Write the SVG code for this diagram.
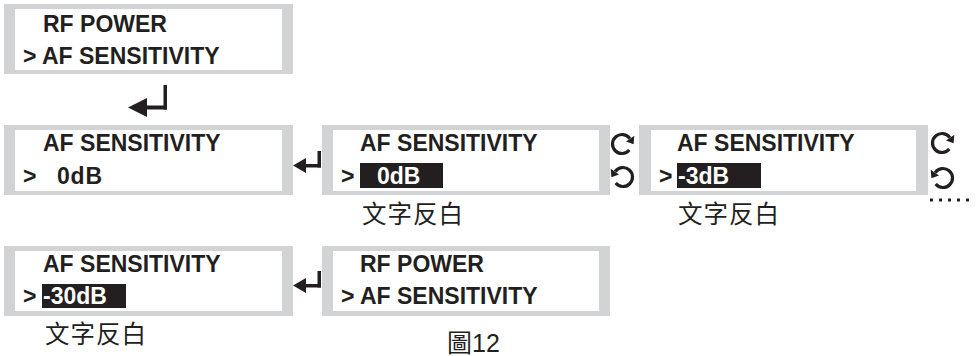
<svg xmlns="http://www.w3.org/2000/svg" xmlns:xlink="http://www.w3.org/1999/xlink" width="976" height="356" viewBox="0 0 976 356">
<style>
.frame{fill:#d1d3d4}
.screen{fill:#ffffff}
.t{font-family:"Liberation Sans",Arial,sans-serif;font-weight:bold;font-size:23px;fill:#231f20}
.inv{fill:#ffffff}
.hl{fill:#231f20}
.cjk{font-family:"Noto Sans CJK TC","Noto Sans CJK SC",sans-serif;font-size:24.5px;letter-spacing:1px;fill:#231f20}
.cap{font-family:"Liberation Sans","Noto Sans CJK TC",sans-serif;font-size:25px;fill:#231f20}
.ink{fill:#231f20}
.arc{fill:none;stroke:#231f20;stroke-width:3.2}
</style>
<defs>
<g id="cw">
<path class="arc" d="M 7.3 6.1 A 9.5 9.5 0 1 1 7.8 -5.4"/>
<polygon class="ink" points="11.6,0.2 12.3,-8.2 4,-2.6"/>
</g>
<g id="ccw">
<path class="arc" d="M -7.3 6.1 A 9.5 9.5 0 1 0 -7.8 -5.4"/>
<polygon class="ink" points="-11.6,0.2 -12.3,-8.2 -4,-2.6"/>
</g>
</defs>

<g id="connectors">
<g id="enter-main">
<polygon class="ink" points="128,107.5 147,98 147,117"/>
<rect class="ink" x="146" y="105.5" width="21" height="4"/>
<rect class="ink" x="163.5" y="85" width="3.5" height="24.5"/>
</g>
<g id="enter-row2">
<polygon class="ink" points="293,165.5 306,158 306,173"/>
<rect class="ink" x="305" y="164" width="16" height="3.5"/>
<rect class="ink" x="317.5" y="151" width="3.5" height="16.5"/>
</g>
<g id="enter-row3">
<polygon class="ink" points="293,285.5 306,278 306,293"/>
<rect class="ink" x="305" y="284" width="16" height="3.5"/>
<rect class="ink" x="317.5" y="271" width="3.5" height="16.5"/>
</g>
<g id="rotate-1">
<use xlink:href="#cw" x="622" y="144"/>
<use xlink:href="#ccw" x="623" y="177"/>
</g>
<g id="rotate-2">
<use xlink:href="#cw" x="942" y="143"/>
<use xlink:href="#ccw" x="943" y="178"/>
</g>
<line x1="930" y1="200" x2="972" y2="200" stroke="#231f20" stroke-width="3" stroke-dasharray="3 6"/>
</g>

<g id="box1">
<rect class="frame" x="4" y="4" width="289" height="70"/>
<rect class="screen" x="15" y="9" width="267" height="61"/>
<text class="t" x="43" y="32">RF POWER</text>
<text class="t" x="23" y="64">&gt; AF SENSITIVITY</text>
</g>

<g id="box2">
<rect class="frame" x="4" y="125" width="289" height="70"/>
<rect class="screen" x="15" y="130" width="267" height="61"/>
<text class="t" x="43" y="151">AF SENSITIVITY</text>
<text class="t" x="23" y="184">&gt;</text>
<text class="t" x="57" y="184" letter-spacing="0.8">0dB</text>
</g>

<g id="box3">
<rect class="frame" x="322" y="125" width="288" height="70"/>
<rect class="screen" x="333" y="130" width="266" height="61"/>
<text class="t" x="360" y="151">AF SENSITIVITY</text>
<text class="t" x="341" y="184">&gt;</text>
<rect class="hl" x="360" y="163" width="83" height="25"/>
<text class="t inv" x="377" y="184">0dB</text>
<text class="cjk" x="362" y="223">文字反白</text>
</g>

<g id="box4">
<rect class="frame" x="639" y="125" width="289" height="70"/>
<rect class="screen" x="651" y="130" width="265" height="61"/>
<text class="t" x="677" y="151">AF SENSITIVITY</text>
<text class="t" x="659" y="184">&gt;</text>
<rect class="hl" x="677" y="163" width="84" height="25"/>
<text class="t inv" x="678" y="184">-3dB</text>
<text class="cjk" x="678" y="223">文字反白</text>
</g>

<g id="box5">
<rect class="frame" x="4" y="246" width="289" height="70"/>
<rect class="screen" x="15" y="251" width="267" height="60"/>
<text class="t" x="43" y="272">AF SENSITIVITY</text>
<text class="t" x="23" y="304">&gt;</text>
<rect class="hl" x="42" y="284" width="84" height="24"/>
<text class="t inv" x="43" y="304">-30dB</text>
<text class="cjk" x="45" y="343">文字反白</text>
</g>

<g id="box6">
<rect class="frame" x="322" y="246" width="288" height="70"/>
<rect class="screen" x="333" y="251" width="266" height="60"/>
<text class="t" x="360" y="272">RF POWER</text>
<text class="t" x="341" y="304">&gt; AF SENSITIVITY</text>
</g>

<g id="caption">
<text class="cap" x="447" y="352">圖12</text>
</g>
</svg>
